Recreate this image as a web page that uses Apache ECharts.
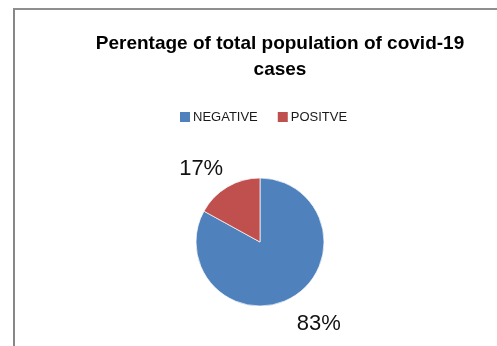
<!DOCTYPE html>
<html>
<head>
<meta charset="utf-8">
<script src="https://cdn.jsdelivr.net/npm/echarts@6/dist/echarts.min.js"></script>
<style>
  html, body { margin: 0; padding: 0; background: #fff; }
  #frame {
    position: absolute; left: 13px; top: 8px; width: 520px; height: 360px;
    border-left: 2px solid #878787; border-top: 2px solid #8f8f8f;
  }
  #main { position: absolute; left: 0; top: 0; width: 497px; height: 346px; }
</style>
</head>
<body>
<div id="frame"></div>
<div id="main"></div>
<script>
// 标题 / 分类 / 数值
const titleText = "Perentage of total population of covid-19\ncases";
const categories = ["NEGATIVE", "POSITVE"];
const values = [83, 17];
const colors = ["#4F81BD", "#C0504D"];

const chart = echarts.init(document.getElementById("main"));

const pieData = [];
for (let i = 0; i < categories.length; i++) {
  pieData.push({ name: categories[i], value: values[i] });
}

const option = {
  color: colors,
  animation: false,
  title: {
    text: titleText,
    left: 275,
    top: 26,
    textAlign: "center",
    textStyle: {
      fontFamily: "Liberation Sans",
      fontWeight: "bold",
      fontSize: 19,
      lineHeight: 26,
      color: "#000"
    }
  },
  legend: {
    data: categories,
    left: 173,
    top: 105,
    itemWidth: 12,
    itemHeight: 12,
    itemGap: 18,
    icon: "rect",
    textStyle: {
      fontFamily: "Liberation Sans",
      fontSize: 13,
      color: "#1a1a1a",
      padding: [0, 0, 0, -3]
    }
  },
  series: [
    {
      type: "pie",
      center: [260, 242],
      radius: 64,
      startAngle: 90,
      clockwise: true,
      data: pieData,
      itemStyle: {
        borderColor: "#fff",
        borderWidth: 0.7
      },
      label: {
        show: true,
        position: "outside",
        formatter: "{d}%",
        fontFamily: "Liberation Sans",
        fontSize: 22,
        color: "#111",
        distanceToLabelLine: -22
      },
      labelLine: {
        show: false,
        length: 26,
        length2: 13
      },
      labelLayout: { dy: 4 },
      emphasis: { disabled: true }
    }
  ]
};

chart.setOption(option);
</script>
</body>
</html>
